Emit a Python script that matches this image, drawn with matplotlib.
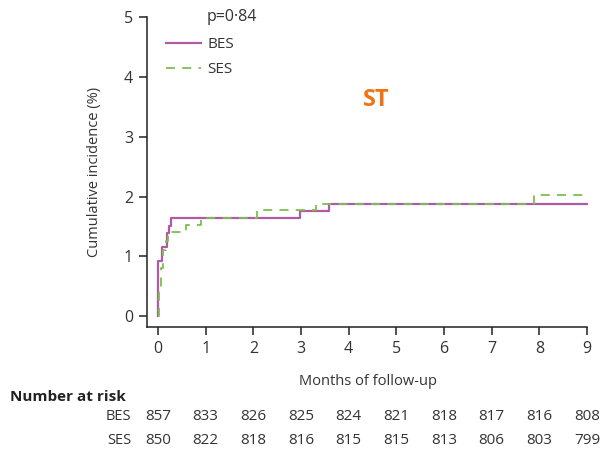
import matplotlib
matplotlib.use("Agg")
import matplotlib.pyplot as plt
from matplotlib.transforms import blended_transform_factory
from matplotlib.lines import Line2D

plt.rcParams['font.family'] = ['Open Sans', 'DejaVu Sans']

# step curves: time (months) and cumulative incidence (%)
bes_t = [0.0, 0.0, 0.09, 0.18, 0.23, 0.28, 2.97, 3.58, 9.0]
bes_y = [0.0, 0.93, 1.15, 1.39, 1.50, 1.64, 1.76, 1.88, 1.88]
ses_t = [0.0, 0.03, 0.06, 0.10, 0.17, 0.22, 0.58, 0.90, 2.08, 3.32, 7.88, 9.0]
ses_y = [0.0, 0.50, 0.80, 1.10, 1.25, 1.41, 1.53, 1.64, 1.77, 1.88, 2.03, 2.03]

months = list(range(10))
bes_risk = [857, 833, 826, 825, 824, 821, 818, 817, 816, 808]
ses_risk = [850, 822, 818, 816, 815, 815, 813, 806, 803, 799]

bes_col = '#b05aa6'
ses_col = '#7cbf4e'
txt_col = '#333333'

fig = plt.figure(figsize=(6.01, 4.5), dpi=100)
ax = fig.add_axes([0.2446, 0.2733, 0.7338, 0.6889])

ax.step(bes_t, bes_y, where='post', color=bes_col, lw=1.6)
ax.step(ses_t, ses_y, where='post', color=ses_col, lw=1.3, dashes=(5, 4))

ax.set_xlim(-0.23, 9.02)
ax.set_ylim(-0.18, 5.0)
ax.set_xticks(months)
ax.set_yticks(range(6))
ax.spines['top'].set_visible(False)
ax.spines['right'].set_visible(False)
for s in ('left', 'bottom'):
    ax.spines[s].set_color('#222222')
    ax.spines[s].set_linewidth(1.1)
ax.spines['bottom'].set_bounds(-0.23, 9.0)
ax.tick_params(direction='out', length=6, width=1.1, color='#222222',
               labelsize=11.5, labelcolor=txt_col, pad=4)

ax.set_ylabel('Cumulative incidence (%)', fontsize=10.5, color=txt_col, labelpad=16)
ax.set_xlabel('Months of follow-up', fontsize=10.5, color=txt_col, labelpad=12)

# legend with p value above it
ax.text(0.135, 1.0, 'p=0·84', transform=ax.transAxes, fontsize=11.5,
        color=txt_col, va='center', ha='left')
handles = [Line2D([], [], color=bes_col, lw=1.6),
           Line2D([], [], color=ses_col, lw=1.3, dashes=(5, 4))]
ax.legend(handles, ['BES', 'SES'], loc='upper left', bbox_to_anchor=(0.042, 0.935),
          frameon=False, fontsize=11, handlelength=2.3, handletextpad=0.45,
          labelspacing=0.65, labelcolor=txt_col, borderaxespad=0, borderpad=0)

ax.text(0.52, 0.732, 'ST', transform=ax.transAxes, fontsize=17, fontweight='bold',
        color='#f07512', ha='center', va='center')

# number-at-risk table
tr = blended_transform_factory(ax.transData, fig.transFigure)
fig.text(0.017, 0.117, 'Number at risk', fontsize=11, fontweight='bold',
         color='#222222', va='center', ha='left')
for label, row, yy in (('BES', bes_risk, 0.074), ('SES', ses_risk, 0.021)):
    fig.text(0.218, yy, label, fontsize=10.5, color=txt_col, va='center', ha='right')
    for m, n in zip(months, row):
        ax.text(m, yy, str(n), transform=tr, fontsize=11, color=txt_col,
                va='center', ha='center', clip_on=False)

fig.savefig('out.png', dpi=100)
